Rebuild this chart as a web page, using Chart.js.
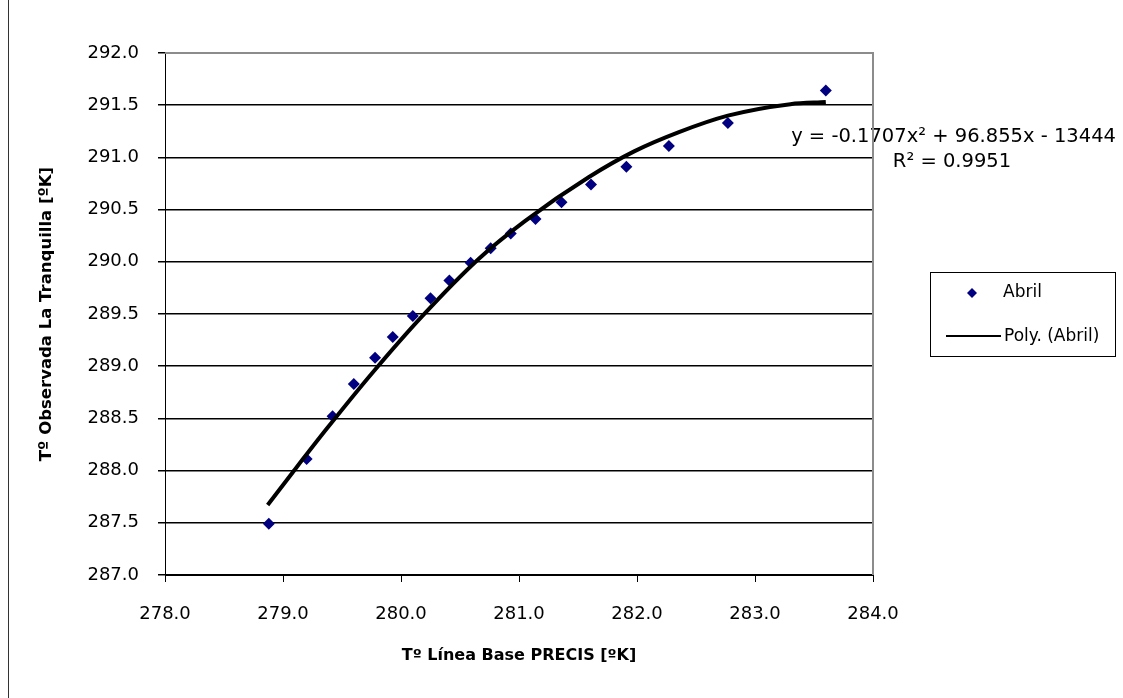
<!DOCTYPE html>
<html>
<head>
<meta charset="utf-8">
<script src="https://cdn.jsdelivr.net/npm/chart.js@4/dist/chart.umd.min.js"></script>
<style>
  html, body { margin: 0; padding: 0; background: #fff; }
</style>
</head>
<body>
<canvas id="abril-trend" width="1123" height="698"></canvas>
<script>
// Colors
var pointColor = "rgba(0, 0, 128, 1)";
var lineColor = "#000";
var frameGray = "#8c8c8c";
var fontFamily = "'DejaVu Sans', Arial, sans-serif";

// Abril - observed points
var baseTemps = [278.88, 279.20, 279.42, 279.60, 279.78, 279.93, 280.10, 280.25, 280.41, 280.59,
                 280.76, 280.93, 281.14, 281.36, 281.61, 281.91, 282.27, 282.77, 283.60];
var observedTemps = [287.49, 288.11, 288.52, 288.83, 289.08, 289.28, 289.48, 289.65, 289.82, 289.99,
                     290.13, 290.27, 290.41, 290.57, 290.74, 290.91, 291.11, 291.33, 291.64];

// Poly. (Abril) - trendline
var polyX = [278.87, 279.08, 279.37, 279.76, 280.18, 280.66, 281.05, 281.59, 281.98, 282.35, 282.77, 283.30, 283.60];
var polyY = [287.67, 287.98, 288.40, 288.94, 289.48, 290.03, 290.39, 290.81, 291.06, 291.24, 291.40, 291.51, 291.53];

// Axis ranges / labels
var xRange = [278, 284];
var yRange = [287, 292];
var xTitle = "Tº Línea Base PRECIS [ºK]";
var yTitle = "Tº Observada La Tranquilla [ºK]";
var seriesLabel = "Abril";
var trendLabel = "Poly. (Abril)";
var equationText = "y = -0.1707x² + 96.855x - 13444";
var r2Text = "R² = 0.9951";

function toPoints(xs, ys) {
  return xs.map(function (x, i) { return { x: x, y: ys[i] }; });
}

// frame, equation, legend box and page rule
var extras = {
  id: 'extras',
  afterDraw: function (chart) {
    var ctx = chart.ctx;
    var a = chart.chartArea;
    ctx.save();

    // trendline equation
    ctx.fillStyle = "#000";
    ctx.font = "19.5px " + fontFamily;
    ctx.textBaseline = "middle";
    ctx.textAlign = "right";
    ctx.fillText(equationText, 1116, 137);
    ctx.textAlign = "center";
    ctx.fillText(r2Text, 952, 162);

    // gray top / right border of the plot
    ctx.strokeStyle = frameGray;
    ctx.lineWidth = 2;
    ctx.beginPath();
    ctx.moveTo(a.left, a.top);
    ctx.lineTo(a.right, a.top);
    ctx.lineTo(a.right, a.bottom);
    ctx.stroke();

    // legend
    ctx.strokeStyle = "#000";
    ctx.lineWidth = 1;
    ctx.strokeRect(930.5, 272.5, 185, 84);
    ctx.fillStyle = pointColor;
    ctx.beginPath();
    ctx.moveTo(972, 288);
    ctx.lineTo(977, 293);
    ctx.lineTo(972, 298);
    ctx.lineTo(967, 293);
    ctx.closePath();
    ctx.fill();
    ctx.strokeStyle = lineColor;
    ctx.lineWidth = 2;
    ctx.beginPath();
    ctx.moveTo(946, 336);
    ctx.lineTo(1001, 336);
    ctx.stroke();
    ctx.fillStyle = "#000";
    ctx.font = "17px " + fontFamily;
    ctx.textAlign = "left";
    ctx.fillText(seriesLabel, 1003, 293);
    ctx.fillText(trendLabel, 1004, 337);

    // page rule on the left
    ctx.strokeStyle = "#333";
    ctx.lineWidth = 1;
    ctx.beginPath();
    ctx.moveTo(8.5, 0);
    ctx.lineTo(8.5, 698);
    ctx.stroke();

    ctx.restore();
  }
};

var trendCanvas = document.getElementById('abril-trend');

var abrilChart = new Chart(trendCanvas, {
  type: 'scatter',
  plugins: [extras],
  data: {
    datasets: [
      {
        label: trendLabel,
        data: toPoints(polyX, polyY),
        showLine: true,
        borderColor: lineColor,
        borderWidth: 4,
        pointRadius: 0,
        cubicInterpolationMode: 'monotone',
        fill: false,
        order: 0
      },
      {
        label: seriesLabel,
        data: toPoints(baseTemps, observedTemps),
        pointStyle: 'rectRot',
        pointRadius: 6,
        backgroundColor: pointColor,
        borderColor: pointColor,
        borderWidth: 0,
        order: 1
      }
    ]
  },
  options: {
    responsive: false,
    animation: false,
    devicePixelRatio: 1,
    layout: { padding: { top: 53, right: 250, bottom: 0, left: 0 } },
    plugins: {
      legend: { display: false },
      tooltip: { enabled: false }
    },
    scales: {
      x: {
        type: 'linear',
        min: xRange[0],
        max: xRange[1],
        afterFit: function (scale) { scale.height = 123; },
        ticks: {
          stepSize: 1,
          padding: 22,
          color: "#000",
          font: { family: fontFamily, size: 18 },
          callback: function (v) { return v.toFixed(1); }
        },
        grid: { drawOnChartArea: false, tickLength: 7, color: "#000" },
        border: { color: "#000", width: 1 },
        title: {
          display: true,
          text: xTitle,
          color: "#000",
          font: { family: fontFamily, size: 16, weight: 'bold' },
          padding: { top: 0, bottom: 33 }
        }
      },
      y: {
        type: 'linear',
        min: yRange[0],
        max: yRange[1],
        afterFit: function (scale) { scale.width = 165; },
        ticks: {
          stepSize: 0.5,
          padding: 19,
          color: "#000",
          font: { family: fontFamily, size: 18 },
          callback: function (v) { return v.toFixed(1); }
        },
        grid: {
          tickLength: 7,
          lineWidth: 1.5,
          tickColor: "#000",
          color: function (ctx) {
            return ctx.tick && ctx.tick.value === yRange[1] ? 'rgba(0,0,0,0)' : "#000";
          }
        },
        border: { color: "#000", width: 1 },
        title: {
          display: true,
          text: yTitle,
          color: "#000",
          font: { family: fontFamily, size: 16.5, weight: 'bold' },
          padding: { top: 37, bottom: 0 }
        }
      }
    }
  }
});
</script>
</body>
</html>
